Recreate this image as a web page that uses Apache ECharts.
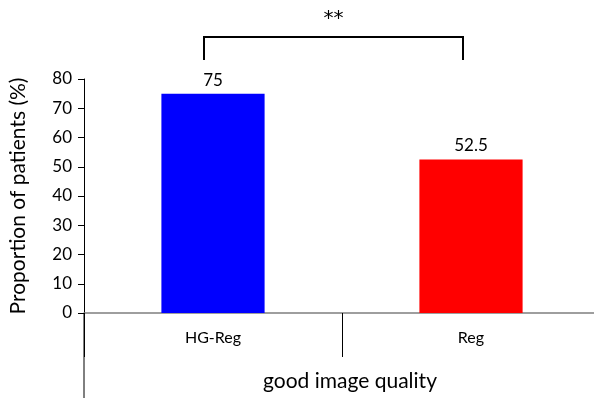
<!DOCTYPE html>
<html><head><meta charset="utf-8">
<script src="https://cdn.jsdelivr.net/npm/echarts@6/dist/echarts.min.js"></script>
<style>html,body{margin:0;padding:0;background:#fff}#c{width:594px;height:398px}</style>
</head><body><div id="c"></div>
<script>
const categories = ['HG-Reg', 'Reg'];
const values = [75, 52.5];
const barColors = ['#0000ff', '#ff0000'];
const groupLabel = 'good image quality';
const yTitle = 'Proportion of patients (%)';
const sigText = '**';
const bracketTop = 94.4;
const bracketLeg = 86.5;

const font = 'Lato, "Open Sans", sans-serif';
const chart = echarts.init(document.getElementById('c'));
chart.setOption({
  animation: false,
  grid: { left: 84, top: 79, width: 516, height: 234, containLabel: false, outerBoundsMode: 'none' },
  xAxis: {
    type: 'category', data: categories,
    name: groupLabel, nameLocation: 'middle', nameGap: 58,
    nameTextStyle: { fontFamily: font, fontSize: 21, color: '#000', padding: [0,0,0,16] },
    axisLine: { lineStyle: { color: '#7f7f7f', width: 1.5 } },
    axisTick: { show: true, inside: false, length: 44, lineStyle: { color: '#000', width: 1 } },
    axisLabel: { fontFamily: font, fontSize: 16, color: '#000', margin: 17 }
  },
  yAxis: {
    type: 'value', min: 0, max: 80, interval: 10,
    name: yTitle, nameLocation: 'middle', nameGap: 55, nameRotate: 90,
    nameTextStyle: { fontFamily: font, fontSize: 21, color: '#000' },
    axisLine: { show: true, lineStyle: { color: '#000', width: 1 } },
    axisTick: { show: true, length: 6, lineStyle: { color: '#000' } },
    axisLabel: { fontFamily: font, fontSize: 17, color: '#000', margin: 12 },
    splitLine: { show: false }
  },
  series: [{
    type: 'bar', barWidth: '40%',
    data: values.map((v, i) => ({ value: v, itemStyle: { color: barColors[i] } })),
    label: { show: true, position: 'top', distance: 5, fontFamily: font, fontSize: 17, color: '#000' }
  }]
});
const p0 = chart.convertToPixel({ xAxisIndex: 0, yAxisIndex: 0 }, [0, bracketTop]);
const p1 = chart.convertToPixel({ xAxisIndex: 0, yAxisIndex: 0 }, [1, bracketTop]);
const legY = chart.convertToPixel({ yAxisIndex: 0 }, bracketLeg);
const zeroY = chart.convertToPixel({ yAxisIndex: 0 }, 0);
const x0 = p0[0] - 9, x1 = p1[0] - 8, yt = p0[1];
chart.setOption({
  graphic: [
    { type: 'polyline', shape: { points: [[x0, legY], [x0, yt], [x1, yt], [x1, legY]] },
      style: { stroke: '#000', lineWidth: 2, fill: null } },
    { type: 'text', x: (x0 + x1) / 2, y: yt - 18, style: { text: sigText, fontFamily: '"DejaVu Sans"', fontSize: 20, fill: '#000', textAlign: 'center', textVerticalAlign: 'middle' } },
    { type: 'line', shape: { x1: 84, y1: zeroY, x2: 84, y2: 398 }, style: { stroke: '#000', lineWidth: 1 } }
  ]
});
</script></body></html>
